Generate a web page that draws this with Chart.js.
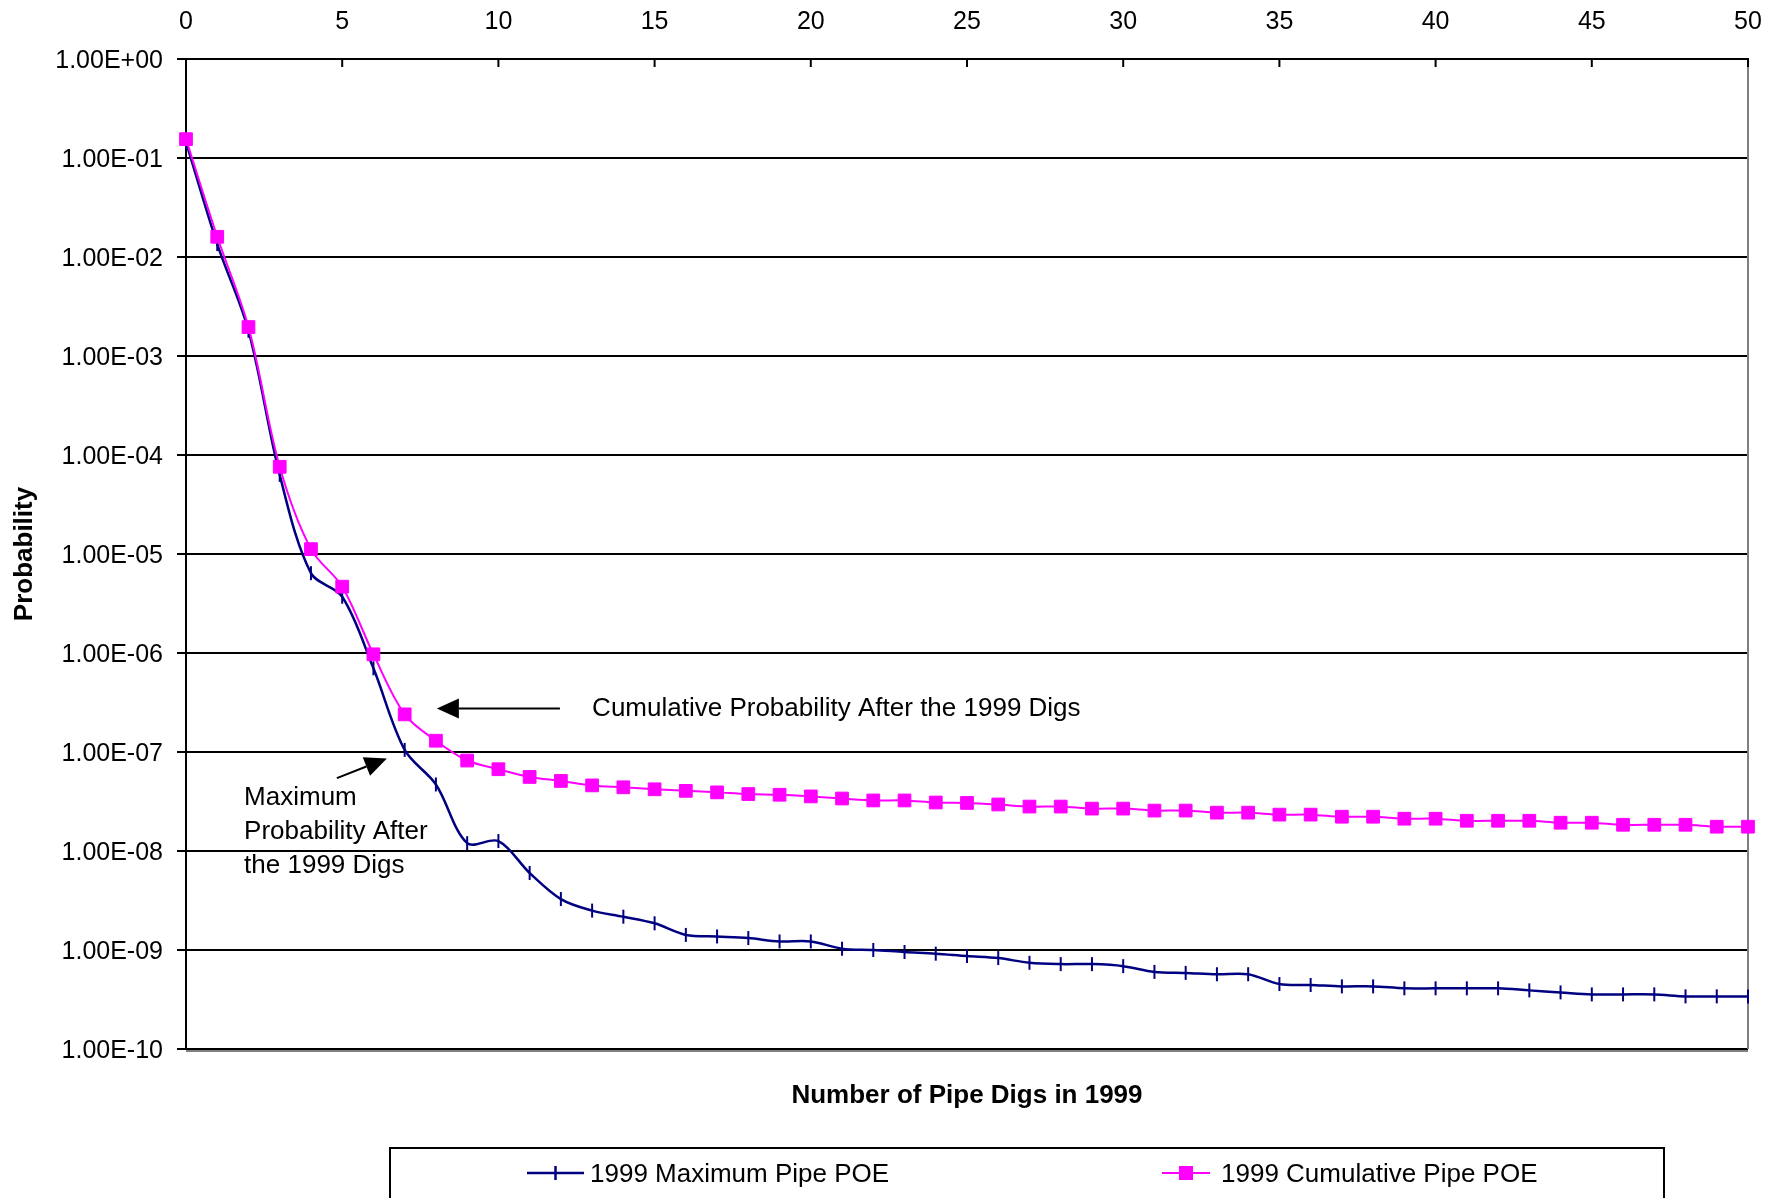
<!DOCTYPE html>
<html>
<head>
<meta charset="utf-8">
<script src="https://cdn.jsdelivr.net/npm/chart.js@4.4.1/dist/chart.umd.min.js"></script>
<style>
body { margin: 0; background: #fff; }
</style>
</head>
<body>
<canvas id="mycanvas" width="1786" height="1198"></canvas>
<script>
// number of pipe digs (x)
var digs = [0, 1, 2, 3, 4, 5, 6, 7, 8, 9, 10, 11, 12, 13, 14, 15, 16, 17, 18, 19, 20,
	21, 22, 23, 24, 25, 26, 27, 28, 29, 30, 31, 32, 33, 34, 35, 36, 37, 38, 39, 40,
	41, 42, 43, 44, 45, 46, 47, 48, 49, 50];

var maxPoe = [1.45e-1, 1.35e-2, 1.8e-3, 6.3e-5, 6.4e-6, 3.7e-6, 7.0e-7, 1.05e-7, 4.7e-8, 1.2e-8, 1.26e-8,
	6.0e-9, 3.27e-9, 2.5e-9, 2.17e-9, 1.86e-9, 1.42e-9, 1.37e-9, 1.32e-9, 1.22e-9, 1.22e-9,
	1.03e-9, 1.0e-9, 9.54e-10, 9.18e-10, 8.69e-10, 8.29e-10, 7.43e-10, 7.2e-10, 7.2e-10, 6.87e-10,
	6.01e-10, 5.87e-10, 5.69e-10, 5.69e-10, 4.53e-10, 4.43e-10, 4.29e-10, 4.29e-10, 4.1e-10, 4.1e-10,
	4.1e-10, 4.1e-10, 3.91e-10, 3.73e-10, 3.56e-10, 3.56e-10, 3.56e-10, 3.4e-10, 3.4e-10, 3.4e-10];

var cumPoe = [1.55e-1, 1.6e-2, 1.96e-3, 7.6e-5, 1.12e-5, 4.68e-6, 9.7e-7, 2.4e-7, 1.3e-7, 8.2e-8, 6.7e-8,
	5.6e-8, 5.1e-8, 4.6e-8, 4.4e-8, 4.2e-8, 4.05e-8, 3.91e-8, 3.76e-8, 3.7e-8, 3.56e-8,
	3.39e-8, 3.24e-8, 3.24e-8, 3.09e-8, 3.06e-8, 2.95e-8, 2.81e-8, 2.81e-8, 2.68e-8, 2.68e-8,
	2.56e-8, 2.56e-8, 2.44e-8, 2.44e-8, 2.33e-8, 2.33e-8, 2.22e-8, 2.22e-8, 2.12e-8, 2.12e-8,
	2.02e-8, 2.02e-8, 2.02e-8, 1.93e-8, 1.93e-8, 1.84e-8, 1.84e-8, 1.84e-8, 1.76e-8, 1.76e-8];

var xTicks = [0, 5, 10, 15, 20, 25, 30, 35, 40, 45, 50];
var yTicks = [1, 1e-1, 1e-2, 1e-3, 1e-4, 1e-5, 1e-6, 1e-7, 1e-8, 1e-9, 1e-10];

var seriesNames = ['1999 Maximum Pipe POE', '1999 Cumulative Pipe POE'];
var xTitle = 'Number of Pipe Digs in 1999';
var yTitle = 'Probability';

// annotation texts, anchored in data units (x digs, y probability)
var noteCum = { text: ['Cumulative Probability After the 1999 Digs'], x: 13.0, y: 2.7e-7, tip: [8.03, 2.75e-7], tail: [11.97, 2.75e-7] };
var noteMax = { text: ['Maximum', 'Probability After', 'the 1999 Digs'], x: 1.86, y: 3.45e-8, tip: [6.43, 8.6e-8], tail: [4.83, 5.45e-8] };

var FONT = '"Liberation Sans", Arial, sans-serif';
var BLUE = '#000080';
var PINK = '#FF00FF';

function sciLabel(v) {
	var s = Number(v).toExponential(2).toUpperCase().split('E');
	var e = parseInt(s[1], 10);
	var a = Math.abs(e);
	return s[0] + 'E' + (e < 0 ? '-' : '+') + (a < 10 ? '0' : '') + a;
}

function toXY(ys) {
	var out = [];
	for (var i in digs) out.push({ x: digs[i], y: ys[i] });
	return out;
}

function arrow(ctx, x1, y1, x2, y2) {
	var ang = Math.atan2(y2 - y1, x2 - x1);
	var len = 22, hw = 10;
	var bx = x2 - len * Math.cos(ang), by = y2 - len * Math.sin(ang);
	ctx.beginPath();
	ctx.moveTo(x1, y1);
	ctx.lineTo(bx, by);
	ctx.stroke();
	ctx.beginPath();
	ctx.moveTo(x2, y2);
	ctx.lineTo(bx + hw * Math.sin(ang), by - hw * Math.cos(ang));
	ctx.lineTo(bx - hw * Math.sin(ang), by + hw * Math.cos(ang));
	ctx.closePath();
	ctx.fill();
}

var decorations = {
	id: 'decorations',
	beforeDatasetsDraw: function(chart) {
		var ctx = chart.ctx, a = chart.chartArea, xs = chart.scales.x;
		ctx.save();
		// right border (grey) and bottom shadow
		ctx.strokeStyle = '#808080';
		ctx.lineWidth = 2;
		ctx.beginPath();
		ctx.moveTo(a.right, a.top);
		ctx.lineTo(a.right, a.bottom);
		ctx.moveTo(a.left, a.bottom + 2);
		ctx.lineTo(a.right, a.bottom + 2);
		ctx.stroke();
		// x ticks pointing into the plot
		ctx.strokeStyle = '#000';
		ctx.beginPath();
		xTicks.forEach(function(v) {
			var px = xs.getPixelForValue(v);
			ctx.moveTo(px, a.top);
			ctx.lineTo(px, a.top + 8);
		});
		ctx.stroke();
		ctx.restore();
	},
	afterDraw: function(chart) {
		var ctx = chart.ctx, a = chart.chartArea, xs = chart.scales.x, ys = chart.scales.y;
		ctx.save();
		ctx.fillStyle = '#000';
		ctx.strokeStyle = '#000';

		// axis titles
		ctx.font = 'bold 26px ' + FONT;
		ctx.textAlign = 'center';
		ctx.textBaseline = 'middle';
		ctx.fillText(xTitle, (a.left + a.right) / 2, 1096);
		ctx.save();
		ctx.translate(25, (a.top + a.bottom) / 2);
		ctx.rotate(-Math.PI / 2);
		ctx.fillText(yTitle, 0, 0);
		ctx.restore();

		// annotations
		ctx.font = '26px ' + FONT;
		ctx.textAlign = 'left';
		ctx.lineWidth = 2;
		[noteCum, noteMax].forEach(function(n) {
			var tx = xs.getPixelForValue(n.x), ty = ys.getPixelForValue(n.y);
			n.text.forEach(function(line, i) {
				ctx.fillText(line, tx, ty + i * 34);
			});
			arrow(ctx, xs.getPixelForValue(n.tail[0]), ys.getPixelForValue(n.tail[1]),
				xs.getPixelForValue(n.tip[0]), ys.getPixelForValue(n.tip[1]));
		});

		// legend box
		var ds = chart.data.datasets;
		ctx.lineWidth = 2;
		ctx.strokeRect(390, 1148, 1274, 80);
		ctx.textBaseline = 'alphabetic';
		var items = [{ x0: 527, x1: 584, tx: 590 }, { x0: 1162, x1: 1210, tx: 1221 }];
		items.forEach(function(it, i) {
			var d = ds[i], cy = 1173, cx = (it.x0 + it.x1) / 2;
			ctx.strokeStyle = d.borderColor;
			ctx.lineWidth = d.borderWidth;
			ctx.beginPath();
			ctx.moveTo(it.x0, cy);
			ctx.lineTo(it.x1, cy);
			ctx.stroke();
			if (d.pointStyle === 'rect') {
				ctx.fillStyle = d.borderColor;
				ctx.fillRect(cx - 7, cy - 7, 14, 14);
			} else {
				ctx.beginPath();
				ctx.moveTo(cx, cy - 7);
				ctx.lineTo(cx, cy + 7);
				ctx.stroke();
			}
			ctx.fillStyle = '#000';
			ctx.fillText(d.label, it.tx, 1182);
		});
		ctx.restore();
	}
};

var ctx = document.getElementById('mycanvas');

var chart = new Chart(ctx, {
	type: 'line',
	data: {
		datasets: [
			{
				label: seriesNames[0],
				data: toXY(maxPoe),
				borderColor: BLUE,
				backgroundColor: BLUE,
				borderWidth: 2.5,
				pointStyle: 'line',
				rotation: 90,
				pointRadius: 7,
				pointBorderWidth: 2,
				tension: 0.33,
				clip: false,
				order: 2
			},
			{
				label: seriesNames[1],
				data: toXY(cumPoe),
				borderColor: PINK,
				backgroundColor: PINK,
				borderWidth: 2,
				pointStyle: 'rect',
				pointRadius: 9,
				pointBorderWidth: 1,
				tension: 0.33,
				clip: false,
				order: 1
			}
		]
	},
	options: {
		responsive: false,
		animation: false,
		layout: { padding: { left: 0, top: 0, right: 38, bottom: 149 } },
		plugins: {
			legend: { display: false },
			tooltip: { enabled: false }
		},
		scales: {
			x: {
				type: 'linear',
				position: 'top',
				min: 0,
				max: 50,
				afterFit: function(s) { s.height = 59; },
				afterBuildTicks: function(s) { s.ticks = xTicks.map(function(v) { return { value: v }; }); },
				ticks: {
					color: '#000',
					font: { family: FONT, size: 25 },
					padding: 22,
					maxRotation: 0
				},
				grid: { display: false, drawTicks: false, tickLength: 0 },
				border: { display: true, color: '#000', width: 2 }
			},
			y: {
				type: 'logarithmic',
				min: 1e-10,
				max: 1,
				afterFit: function(s) { s.width = 186; },
				afterBuildTicks: function(s) { s.ticks = yTicks.map(function(v) { return { value: v }; }); },
				ticks: {
					color: '#000',
					font: { family: FONT, size: 25 },
					padding: 14,
					labelOffset: 2,
					callback: function(v) { return sciLabel(v); }
				},
				grid: { color: '#000', lineWidth: 2, tickLength: 9, drawTicks: true },
				border: { display: true, color: '#000', width: 2 }
			}
		}
	},
	plugins: [decorations]
});
</script>
</body>
</html>
